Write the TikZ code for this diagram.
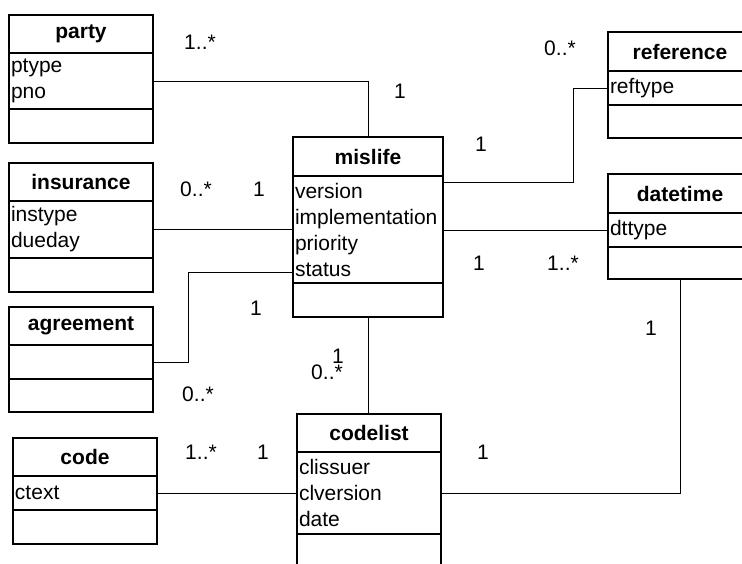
\documentclass[tikz,border=0pt]{standalone}
\usepackage{fontspec}
\setmainfont{Liberation Sans}
\usetikzlibrary{positioning}

\begin{document}
\begin{tikzpicture}[x=1pt,y=-1pt,
        every node/.style={font=\fontsize{21}{26}\selectfont, outer sep=0pt},
        chead/.style={draw, line width=1.6pt, minimum width=144pt, minimum height=38pt, inner sep=0pt, font=\fontsize{21}{26}\selectfont\bfseries},
        cbody/.style={draw, line width=1.6pt, text width=140pt, inner xsep=2pt, inner ysep=0pt, align=left},
        link/.style={line width=1pt},
        mult/.style={inner sep=0pt}]
        \useasboundingbox (0,0) rectangle (742,563);
        \clip (0,0) rectangle (742,563);
        % classes
        \node[chead, anchor=north west] (party) at (9,15) {party};
        \node[cbody, minimum height=56pt, below=0pt of party] (partyA) {ptype\\pno};
        \node[cbody, minimum height=34pt, below=0pt of partyA] (partyO) {};
        \node[chead, anchor=north west] (ins) at (9,163) {insurance};
        \node[cbody, minimum height=57pt, below=0pt of ins] (insA) {instype\\dueday};
        \node[cbody, minimum height=34pt, below=0pt of insA] (insO) {};
        \node[chead, anchor=north west] (agr) at (9,307) {agreement};
        \node[cbody, minimum height=34pt, below=0pt of agr] (agrA) {};
        \node[cbody, minimum height=33pt, below=0pt of agrA] (agrO) {};
        \node[chead, anchor=north west] (code) at (13,438) {code};
        \node[cbody, minimum height=34pt, below=0pt of code] (codeA) {ctext};
        \node[cbody, minimum height=34pt, below=0pt of codeA] (codeO) {};
        \node[chead, anchor=north west, minimum width=150pt, minimum height=39pt] (mis) at (293,137) {mislife};
        \node[cbody, text width=146pt, minimum height=107pt, below=0pt of mis] (misA) {version\\implementation\\priority\\status};
        \node[cbody, text width=146pt, minimum height=34pt, below=0pt of misA] (misO) {};
        \node[chead, anchor=north west] (cl) at (297,414) {codelist};
        \node[cbody, minimum height=82pt, below=0pt of cl] (clA) {clissuer\\clversion\\date};
        \node[cbody, minimum height=34pt, below=0pt of clA] (clO) {};
        \node[chead, anchor=north west, minimum height=39pt] (ref) at (608,32) {reference};
        \node[cbody, minimum height=34pt, below=0pt of ref] (refA) {reftype};
        \node[cbody, minimum height=33pt, below=0pt of refA] (refO) {};
        \node[chead, anchor=north west, minimum height=39pt] (dt) at (608,174) {datetime};
        \node[cbody, minimum height=34pt, below=0pt of dt] (dtA) {dttype};
        \node[cbody, minimum height=32pt, below=0pt of dtA] (dtO) {};
        % associations
        \draw[link] (partyA.east) -| (mis.north);
        \draw[link] (refA.west) -- ++(-35,0) |- ([yshift=-6pt]misA.north east);
        \draw[link] (insA.east) -- (insA.east -| misA.west);
        \draw[link] (misA.east |- dtA.west) -- (dtA.west);
        \draw[link] (agrA.east) -- ++(35,0) |- ([yshift=11pt]misA.south west);
        \draw[link] (misO.south) -- (misO.south |- cl.north);
        \draw[link] (codeA.east) -- (codeA.east -| clA.west);
        \draw[link] (dtO.south) |- (clA.east);
        % multiplicities
        \node[mult] (m1) at (200,42) {1..*};
        \node[mult] (m2) at (400,91) {1};
        \node[mult] (m3) at (560,48) {0..*};
        \node[mult] (m4) at (481,144) {1};
        \node[mult] (m5) at (196,189) {0..*};
        \node[mult] (m6) at (259,189) {1};
        \node[mult] (m7) at (479,263) {1};
        \node[mult] (m8) at (563,263) {1..*};
        \node[mult] (m9) at (256,308) {1};
        \node[mult] (m10) at (198,394) {0..*};
        \node[mult] (m11) at (338,356) {1};
        \node[mult] (m12) at (327,372) {0..*};
        \node[mult] (m13) at (201,452) {1..*};
        \node[mult] (m14) at (263,452) {1};
        \node[mult] (m15) at (483,452) {1};
        \node[mult] (m16) at (651,328) {1};
\end{tikzpicture}
\end{document}
